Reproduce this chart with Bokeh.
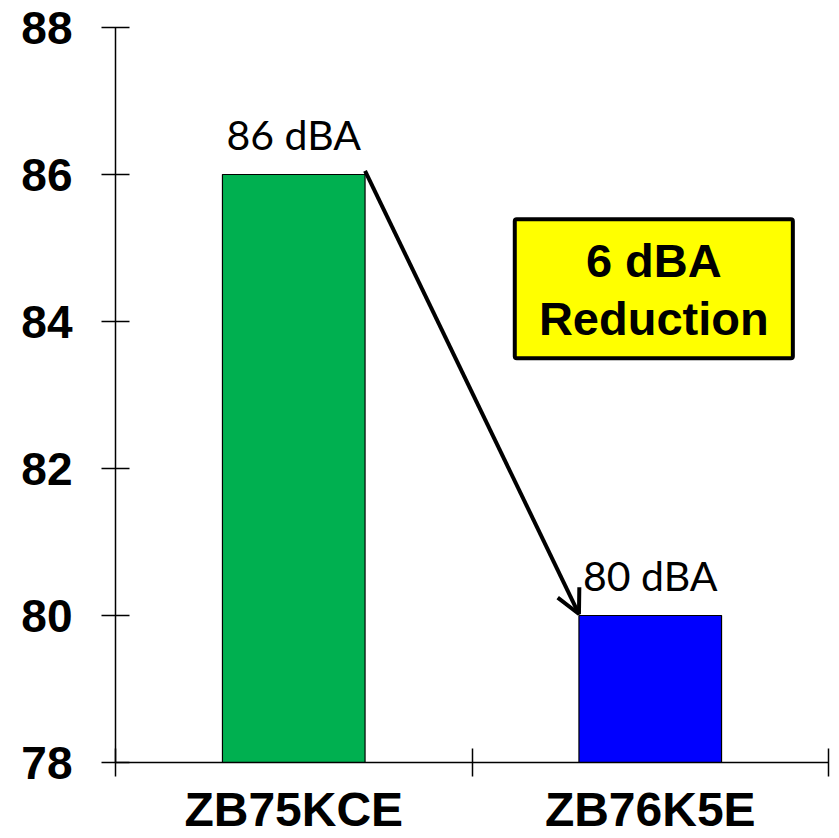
from bokeh.plotting import figure
from bokeh.models import Range1d, FixedTicker, Arrow, OpenHead, BoxAnnotation, Label, ColumnDataSource
from bokeh.core.properties import value
from bokeh.embed import file_html
from bokeh.resources import INLINE

categories = ["ZB75KCE", "ZB76K5E"]
noise_dba = [86, 80]
bar_colors = ["#00B050", "#0000FF"]
value_labels = ["86 dBA", "80 dBA"]
y_ticks = [78, 80, 82, 84, 86, 88]
callout_lines = ["6 dBA", "Reduction"]

xs = [i + 0.5 for i in range(len(categories))]
bar_w = 0.4

p = figure(width=839, height=838, x_range=Range1d(0, len(categories)),
           y_range=Range1d(y_ticks[0], y_ticks[-1]),
           output_backend="svg", toolbar_location=None,
           min_border_left=115, min_border_right=11, min_border_top=27, min_border_bottom=76)
p.outline_line_color = None
p.xgrid.visible = False
p.ygrid.visible = False
p.background_fill_color = "white"
p.border_fill_color = "white"

src = ColumnDataSource(dict(x=xs, top=noise_dba, color=bar_colors, label=value_labels))
p.vbar(x="x", top="top", bottom=y_ticks[0], width=bar_w, fill_color="color",
       line_color="black", line_width=1.2, source=src)

p.text(x="x", y="top", text="label", source=src, text_align="center",
       text_baseline="alphabetic", y_offset=-40, text_font=value("Lato"),
       text_font_size="41px", text_color="black")

# x axis
xa = p.xaxis[0]
xa.ticker = FixedTicker(ticks=xs, minor_ticks=list(range(len(categories) + 1)))
xa.major_label_overrides = {x: c for x, c in zip(xs, categories)}
xa.major_tick_in = 0
xa.major_tick_out = 0
xa.minor_tick_in = 14
xa.minor_tick_out = 14
xa.minor_tick_line_color = "black"
xa.minor_tick_line_width = 1.5
xa.axis_line_width = 1.5
xa.axis_line_color = "black"
xa.major_label_standoff = 6
xa.major_label_text_font = "Liberation Sans"
xa.major_label_text_font_style = "bold"
xa.major_label_text_font_size = "48px"
xa.major_label_text_color = "black"

ya = p.yaxis[0]
ya.ticker = FixedTicker(ticks=y_ticks, minor_ticks=[])
ya.major_tick_in = 14
ya.major_tick_out = 14
ya.major_tick_line_width = 1.5
ya.major_tick_line_color = "black"
ya.axis_line_width = 1.5
ya.axis_line_color = "black"
ya.major_label_standoff = 29
ya.major_label_text_font = "Liberation Sans"
ya.major_label_text_font_style = "bold"
ya.major_label_text_font_size = "46px"
ya.major_label_text_color = "black"

# arrow from bar 1 top-right corner to bar 2 top-left corner
p.add_layout(Arrow(end=OpenHead(size=24, line_width=4, line_color="black"),
                   x_start=xs[0] + bar_w / 2, y_start=noise_dba[0] + 0.05,
                   x_end=xs[1] - bar_w / 2, y_end=noise_dba[1] + 0.02,
                   line_width=4, line_color="black"))

# callout box
box = BoxAnnotation(left=1.12, right=1.90, top=85.39, bottom=83.50,
                    fill_color="#FFFF00", fill_alpha=1, line_color="black",
                    line_width=4, line_alpha=1, border_radius=2)
p.add_layout(box)
for txt, yy in zip(callout_lines, [84.83, 84.04]):
    p.add_layout(Label(x=1.51, y=yy, text=txt, text_align="center", text_baseline="middle",
                       text_font="Liberation Sans", text_font_style="bold",
                       text_font_size="47px", text_color="black"))

open("out.html", "w").write(file_html(p, INLINE))
